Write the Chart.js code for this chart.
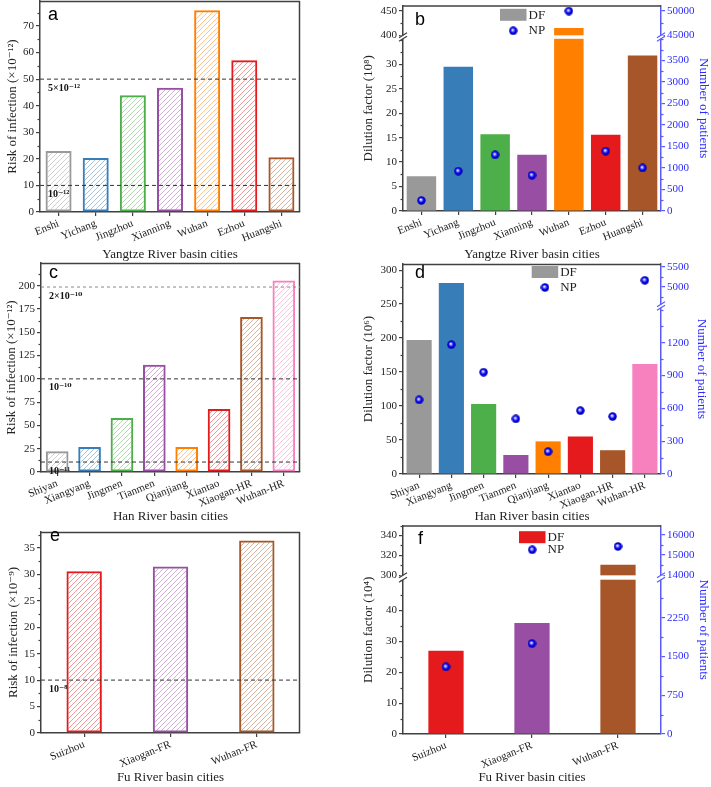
<!DOCTYPE html>
<html><head><meta charset="utf-8">
<script src="https://cdn.jsdelivr.net/npm/chart.js@4.4.1/dist/chart.umd.min.js"></script>
<style>
html,body{margin:0;padding:0;background:#fff;}
#wrap{position:relative;width:711px;height:787px;overflow:hidden;background:#fff;}
canvas{position:absolute;}
</style></head><body><div id="wrap"></div>
<script>
// ---------------- DATA ----------------
const yangtzeCities = ['Enshi','Yichang','Jingzhou','Xianning','Wuhan','Ezhou','Huangshi'];
const yangtzeRisk = [23.0, 20.3, 43.9, 46.8, 75.9, 57.1, 20.6];
const yangtzeRefValues = [10, 50];
const yangtzeRefLabels = ['10⁻¹²', '5×10⁻¹²'];
const yangtzeDF = [7.1, 29.5, 15.7, 11.5, 415, 15.6, 31.8];
const yangtzeNP = [245, 925, 1305, 830, 49950, 1390, 1000];

const hanCities = ['Shiyan','Xiangyang','Jingmen','Tianmen','Qianjiang','Xiantao','Xiaogan-HR','Wuhan-HR'];
const hanRisk = [22.2, 26.8, 58.0, 115.2, 26.8, 67.6, 166.4, 205.7];
const hanRefValues = [10.7, 100, 198.6];
const hanRefLabels = ['10⁻¹¹', '10⁻¹⁰', '2×10⁻¹⁰'];
const hanDF = [197, 281, 103, 28, 48, 55, 35, 162];
const hanNP = [678, 1182, 930, 504, 204, 579, 525, 5160];

const fuCities = ['Suizhou','Xiaogan-FR','Wuhan-FR'];
const fuRisk = [30.6, 31.5, 36.4];
const fuRefValues = [10];
const fuRefLabels = ['10⁻⁸'];
const fuDF = [27, 36, 310.5];
const fuNP = [1298, 1748, 15420];

// tick labels
const riskTicksA = [0,10,20,30,40,50,60,70];
const riskTicksC = [0,25,50,75,100,125,150,175,200];
const riskTicksE = [0,5,10,15,20,25,30,35];
const dfTicksB = [0,5,10,15,20,25,30,400,450];
const npTicksB = [0,500,1000,1500,2000,2500,3000,3500,45000,50000];
const dfTicksD = [0,50,100,150,200,250,300];
const npTicksD = [0,300,600,900,1200,5000,5500];
const dfTicksF = [0,10,20,30,40,300,320,340];
const npTicksF = [0,750,1500,2250,14000,15000,16000];

// ---------------- STYLE ----------------
const SERIF = "'Liberation Serif','Times New Roman','DejaVu Serif',serif";
const SANS = "'Liberation Sans',Arial,sans-serif";
const AX = '#404040';
const TXT = '#222222';
const BLUE_AX = '#5a5aff';
const BLUE_TXT = '#2b2bff';
const C = {gray:'#999999', blue:'#377eb8', green:'#4daf4a', purple:'#984ea3', orange:'#ff7f00', red:'#e41a1c', brown:'#a65628', pink:'#f781bf'};
const yangtzeColors = [C.gray, C.blue, C.green, C.purple, C.orange, C.red, C.brown];
const hanColors = [C.gray, C.blue, C.green, C.purple, C.orange, C.red, C.brown, C.pink];
const fuColors = [C.red, C.purple, C.brown];

Chart.defaults.font.family = SERIF;

// ---------------- BROKEN SCALE ----------------
class BrokenScale extends Chart.LinearScale {
  buildTicks() {
    const v = this.options.tickValues;
    if (v) return v.map(x => ({value: x}));
    return super.buildTicks();
  }
  getPadding() { return {left:0, right:0, top:0, bottom:0}; }
  _dec(value) {
    const b = this.options.brk;
    if (!b) return (value - this.min) / (this.max - this.min);
    if (value <= b.lowMax) return (value - this.min) / (b.lowMax - this.min) * b.f1;
    if (value >= b.highMin) return b.f2 + (value - b.highMin) / (this.max - b.highMin) * (1 - b.f2);
    return b.f1 + (value - b.lowMax) / (b.highMin - b.lowMax) * (b.f2 - b.f1);
  }
  getPixelForValue(value) { return this.getPixelForDecimal(this._dec(value)); }
  getValueForPixel(pixel) {
    const d = this.getDecimalForPixel(pixel);
    const b = this.options.brk;
    if (!b) return this.min + d * (this.max - this.min);
    if (d <= b.f1) return this.min + d / b.f1 * (b.lowMax - this.min);
    if (d >= b.f2) return b.highMin + (d - b.f2) / (1 - b.f2) * (this.max - b.highMin);
    return b.lowMax + (d - b.f1) / (b.f2 - b.f1) * (b.highMin - b.lowMax);
  }
}
BrokenScale.id = 'broken';
BrokenScale.defaults = {};
Chart.register(BrokenScale);

// ---------------- HELPERS ----------------
function hatch(color) {
  const s = 5;
  const c = document.createElement('canvas'); c.width = s; c.height = s;
  const g = c.getContext('2d');
  g.strokeStyle = color; g.globalAlpha = 0.5; g.lineWidth = 0.9;
  g.beginPath();
  g.moveTo(0, s); g.lineTo(s, 0);
  g.moveTo(-1, 1); g.lineTo(1, -1);
  g.moveTo(s - 1, s + 1); g.lineTo(s + 1, s - 1);
  g.stroke();
  return g.createPattern(c, 'repeat');
}
function sphere(d) {
  const c = document.createElement('canvas'); c.width = d; c.height = d;
  const g = c.getContext('2d');
  const r = d / 2;
  const gr = g.createRadialGradient(r * 0.85, r * 0.8, 0.3, r, r, r);
  gr.addColorStop(0, '#ffffff');
  gr.addColorStop(0.22, '#8080ff');
  gr.addColorStop(0.55, '#0000f0');
  gr.addColorStop(1, '#00009a');
  g.fillStyle = gr;
  g.beginPath(); g.arc(r, r, r - 0.3, 0, Math.PI * 2); g.fill();
  return c;
}
const SPH = sphere(9);

function decor(p) {
  return {
    id: 'decor',
    afterDraw(chart) {
      const ctx = chart.ctx, A = chart.chartArea;
      ctx.save();
      // minor ticks
      for (const id of Object.keys(chart.scales)) {
        const s = chart.scales[id];
        const mn = s.options.minor;
        if (!mn || s.axis !== 'y') continue;
        const b = s.options.brk;
        const majors = s.options.tickValues || [];
        const segs = b ? [[s.min, b.lowMax, mn[0]], [b.highMin, s.max, mn[1]]] : [[s.min, s.max, mn[0]]];
        const left = s.position === 'left';
        const ax = left ? A.left : A.right;
        ctx.strokeStyle = s.options.border.color; ctx.lineWidth = 1.2;
        for (const [lo, hi, st] of segs) {
          for (let v = Math.ceil(lo / st) * st; v <= hi + 1e-9; v += st) {
            if (majors.some(m => Math.abs(m - v) < 1e-9)) continue;
            const y = Math.round(s.getPixelForValue(v)) + 0.5;
            ctx.beginPath(); ctx.moveTo(ax, y); ctx.lineTo(left ? ax - 2.5 : ax + 2.5, y); ctx.stroke();
          }
        }
      }
      // breaks
      for (const id of Object.keys(chart.scales)) {
        const s = chart.scales[id];
        const b = s.options.brk;
        if (!b) continue;
        const yLo = s.getPixelForValue(b.lowMax), yHi = s.getPixelForValue(b.highMin);
        ctx.fillStyle = '#ffffff';
        chart.data.datasets.forEach((ds, i) => {
          const m = chart.getDatasetMeta(i);
          if (m.type !== 'bar' || m.yAxisID !== id) return;
          m.data.forEach(el => {
            const pr = el.getProps(['x', 'y', 'width']);
            if (pr.y < yHi) ctx.fillRect(pr.x - pr.width / 2 - 1, yHi, pr.width + 2, yLo - yHi);
          });
        });
        const ax = s.position === 'left' ? A.left : A.right;
        ctx.fillRect(ax - 2.5, yHi, 5, yLo - yHi);
        ctx.strokeStyle = s.options.border.color; ctx.lineWidth = 1.2;
        [yLo, yHi].forEach(y => { ctx.beginPath(); ctx.moveTo(ax - 4, y + 2.5); ctx.lineTo(ax + 4, y - 2.5); ctx.stroke(); });
      }
      // frame
      ctx.strokeStyle = AX; ctx.lineWidth = 1.5;
      ctx.beginPath(); ctx.moveTo(A.left, A.top + 0.5); ctx.lineTo(A.right, A.top + 0.5); ctx.stroke();
      if (p.rightFrame) { ctx.beginPath(); ctx.moveTo(A.right - 0.5, A.top); ctx.lineTo(A.right - 0.5, A.bottom); ctx.stroke(); }
      // reference lines
      if (p.ref) {
        const ys = chart.scales.y;
        p.ref.values.forEach((v, i) => {
          const y = ys.getPixelForValue(v);
          ctx.strokeStyle = p.ref.colors[i]; ctx.lineWidth = 1; ctx.setLineDash(p.ref.dashes[i]);
          ctx.beginPath(); ctx.moveTo(A.left, y); ctx.lineTo(A.right, y); ctx.stroke();
          ctx.setLineDash([]);
          ctx.fillStyle = '#111'; ctx.font = 'bold 10px ' + SERIF; ctx.textBaseline = 'middle'; ctx.textAlign = 'left';
          ctx.fillText(p.ref.labels[i], A.left + 8, y + 9);
        });
      }
      // letter
      ctx.fillStyle = '#000'; ctx.font = '18px ' + SANS; ctx.textBaseline = 'alphabetic'; ctx.textAlign = 'left';
      ctx.fillText(p.letter, A.left + p.letterDx, A.top + p.letterDy);
      // legend
      if (p.legend) {
        const L = p.legend;
        const bx = A.left + L.dx, by = A.top + L.dy;
        const ds = chart.data.datasets;
        const barDs = ds.find(d => d.type === 'bar' || !d.type);
        const ptDs = ds.find(d => d.type === 'line');
        ctx.fillStyle = L.boxColor; ctx.fillRect(bx, by, 26.5, 12);
        ctx.fillStyle = TXT; ctx.font = '13px ' + SERIF; ctx.textBaseline = 'middle';
        ctx.fillText(barDs.label, bx + 28.5, by + 6.5);
        ctx.drawImage(SPH, bx + 13.25 - 4.5, by + L.ptDy - 4.5);
        ctx.fillText(ptDs.label, bx + 28.5, by + L.ptDy);
      }
      ctx.restore();
    }
  };
}

const wrap = document.getElementById('wrap');

function yScale(opts) {
  const right = opts.position === 'right';
  return {
    type: 'broken', position: opts.position, min: opts.min, max: opts.max,
    tickValues: opts.ticks, brk: opts.brk, minor: opts.minor,
    grid: {drawOnChartArea: false, drawTicks: true, tickLength: 4, color: right ? BLUE_AX : AX, lineWidth: 1.2},
    border: {display: true, color: right ? BLUE_AX : AX, width: 1.5},
    ticks: {autoSkip: false, font: {size: 11, family: SERIF}, color: right ? BLUE_TXT : TXT, padding: 2, callback: v => String(v)},
    title: {display: true, text: opts.title, color: right ? BLUE_TXT : TXT, font: {size: 13, family: SERIF}, padding: {top: opts.titlePad, bottom: 0}},
    afterFit: s => { s.width = opts.width; }
  };
}

function makePanel(p) {
  const cv = document.createElement('canvas');
  cv.width = p.cw; cv.height = p.ch;
  cv.style.left = p.cx + 'px'; cv.style.top = p.cy + 'px';
  cv.style.width = p.cw + 'px'; cv.style.height = p.ch + 'px';
  wrap.appendChild(cv);
  const scales = {
    x: {
      type: 'category', offset: true,
      grid: {offset: false, drawOnChartArea: false, drawTicks: true, tickLength: 4, color: AX, lineWidth: 1.2},
      border: {display: true, color: AX, width: 1.5},
      ticks: {autoSkip: false, minRotation: 22, maxRotation: 22, font: {size: 11, family: SERIF}, color: TXT, padding: 1},
      title: {display: true, text: p.xTitle, color: TXT, font: {size: 13, family: SERIF}, padding: {top: 0, bottom: 1.2}},
      afterFit: s => { s.height = p.cy + p.ch - p.area.bottom; }
    },
    y: yScale(Object.assign({position: 'left', width: p.area.left - p.cx}, p.y))
  };
  if (p.y2) scales.y2 = yScale(Object.assign({position: 'right', width: p.cx + p.cw - p.area.right}, p.y2));
  new Chart(cv, {
    type: 'bar',
    data: {labels: p.labels, datasets: p.datasets},
    options: {
      responsive: false, animation: false, devicePixelRatio: 1,
      layout: {padding: {left: 0, top: p.area.top - p.cy, right: p.y2 ? 0 : (p.cx + p.cw - p.area.right), bottom: 0}},
      plugins: {legend: {display: false}, tooltip: {enabled: false}},
      scales
    },
    plugins: [decor(p)]
  });
}

function riskDataset(values, colors, pct) {
  return {type: 'bar', label: 'Risk', data: values, backgroundColor: colors.map(hatch), borderColor: colors,
    borderWidth: 2, borderSkipped: false, barPercentage: pct, categoryPercentage: 1, yAxisID: 'y', order: 1};
}
function dfDatasets(df, np, colors, pct) {
  return [
    {type: 'line', label: 'NP', data: np, showLine: false, pointStyle: SPH, pointRadius: 4.5, yAxisID: 'y2', order: 0},
    {type: 'bar', label: 'DF', data: df, backgroundColor: colors, borderWidth: 0, barPercentage: pct, categoryPercentage: 1, yAxisID: 'y', order: 1}
  ];
}

// ---------------- PANELS ----------------
makePanel({
  cx: 0, cy: 0, cw: 355, ch: 264, area: {left: 40, right: 300, top: 1, bottom: 212},
  labels: yangtzeCities, xTitle: 'Yangtze River basin cities',
  datasets: [riskDataset(yangtzeRisk, yangtzeColors, 0.7)],
  y: {min: 0, max: 79.4, ticks: riskTicksA, minor: [5], title: 'Risk of infection (×10⁻¹²)', titlePad: 4.5},
  rightFrame: true, letter: 'a', letterDx: 8, letterDy: 19,
  ref: {values: yangtzeRefValues, labels: yangtzeRefLabels, colors: ['#333', '#333'], dashes: [[4, 3], [4, 3]]}
});
makePanel({
  cx: 355, cy: 0, cw: 356, ch: 264, area: {left: 403, right: 661, top: 1, bottom: 211},
  labels: yangtzeCities, xTitle: 'Yangtze River basin cities',
  datasets: dfDatasets(yangtzeDF, yangtzeNP, yangtzeColors, 0.8),
  y: {min: 0, max: 460.9, ticks: dfTicksB, minor: [2.5, 25], brk: {lowMax: 35.2, highMin: 400, f1: 0.838, f2: 0.855}, title: 'Dilution factor (10⁸)', titlePad: 5.5},
  y2: {min: 0, max: 51090, ticks: npTicksB, minor: [250, 2500], brk: {lowMax: 4000, highMin: 45000, f1: 0.838, f2: 0.855}, title: 'Number of patients', titlePad: 0},
  letter: 'b', letterDx: 12, letterDy: 19.5,
  legend: {dx: 97, dy: 3.3, ptDy: 22, boxColor: C.gray}
});
makePanel({
  cx: 0, cy: 258, cw: 355, ch: 268, area: {left: 41, right: 300, top: 263, bottom: 472},
  labels: hanCities, xTitle: 'Han River basin cities',
  datasets: [riskDataset(hanRisk, hanColors, 0.7)],
  y: {min: 0, max: 224.4, ticks: riskTicksC, minor: [12.5], title: 'Risk of infection (×10⁻¹²)', titlePad: 3.5},
  rightFrame: true, letter: 'c', letterDx: 8, letterDy: 15,
  ref: {values: hanRefValues, labels: hanRefLabels, colors: ['#333', '#333', '#8a8a8a'], dashes: [[4, 3], [4, 3], [3, 3]]}
});
makePanel({
  cx: 355, cy: 258, cw: 356, ch: 268, area: {left: 403, right: 661, top: 264, bottom: 474},
  labels: hanCities, xTitle: 'Han River basin cities',
  datasets: dfDatasets(hanDF, hanNP, hanColors, 0.78),
  y: {min: 0, max: 309, ticks: dfTicksD, minor: [25], title: 'Dilution factor (10⁶)', titlePad: 5.5},
  y2: {min: 0, max: 5568, ticks: npTicksD, minor: [150, 250], brk: {lowMax: 1520, highMin: 4560, f1: 0.792, f2: 0.808}, title: 'Number of patients', titlePad: 1.5},
  letter: 'd', letterDx: 12, letterDy: 14,
  legend: {dx: 128.7, dy: 2, ptDy: 21.5, boxColor: C.gray}
});
makePanel({
  cx: 0, cy: 522, cw: 355, ch: 265, area: {left: 41, right: 300, top: 532, bottom: 733},
  labels: fuCities, xTitle: 'Fu River basin cities',
  datasets: [riskDataset(fuRisk, fuColors, 0.41)],
  y: {min: 0, max: 38.0, ticks: riskTicksE, minor: [2.5], title: 'Risk of infection (×10⁻⁹)', titlePad: 6},
  rightFrame: true, letter: 'e', letterDx: 9, letterDy: 9,
  ref: {values: fuRefValues, labels: fuRefLabels, colors: ['#333'], dashes: [[4, 3]]}
});
makePanel({
  cx: 355, cy: 520, cw: 356, ch: 267, area: {left: 403, right: 661, top: 525, bottom: 734},
  labels: fuCities, xTitle: 'Fu River basin cities',
  datasets: dfDatasets(fuDF, fuNP, fuColors, 0.41),
  y: {min: 0, max: 350, ticks: dfTicksF, minor: [5, 10], brk: {lowMax: 50, highMin: 300, f1: 0.740, f2: 0.761}, title: 'Dilution factor (10⁴)', titlePad: 5.5},
  y2: {min: 0, max: 16450, ticks: npTicksF, minor: [375, 500], brk: {lowMax: 2983, highMin: 14000, f1: 0.740, f2: 0.761}, title: 'Number of patients', titlePad: 0},
  letter: 'f', letterDx: 15, letterDy: 18,
  legend: {dx: 116, dy: 5.7, ptDy: 18.6, boxColor: C.red}
});
</script>
</body></html>
